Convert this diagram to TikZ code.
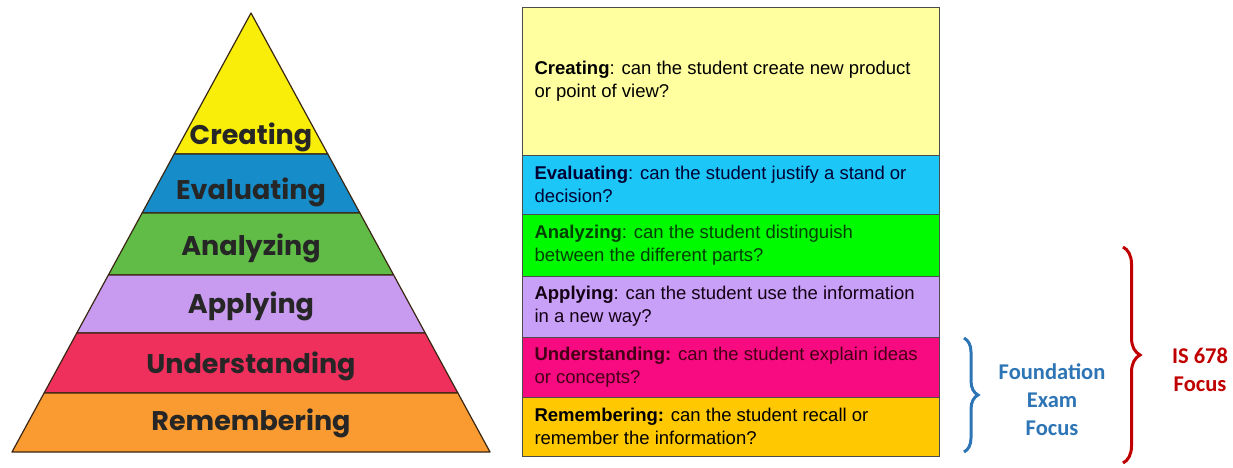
\documentclass[tikz,border=0pt]{standalone}
\usepackage{fontspec}
\setmainfont{Liberation Sans}
\newfontfamily\pyrfont{Poppins}
\newfontfamily\calfont{Carlito}
\usetikzlibrary{decorations.pathreplacing}

\definecolor{pyrCreating}{RGB}{248,238,10}
\definecolor{pyrEvaluating}{RGB}{22,140,200}
\definecolor{pyrAnalyzing}{RGB}{96,188,70}
\definecolor{pyrApplying}{RGB}{200,155,240}
\definecolor{pyrUnderstanding}{RGB}{240,48,92}
\definecolor{pyrRemembering}{RGB}{250,155,50}
\definecolor{tabCreating}{RGB}{255,255,160}
\definecolor{tabEvaluating}{RGB}{28,198,246}
\definecolor{tabAnalyzing}{RGB}{0,250,0}
\definecolor{tabApplying}{RGB}{200,160,248}
\definecolor{tabUnderstanding}{RGB}{248,10,128}
\definecolor{tabRemembering}{RGB}{255,200,0}
\definecolor{examblue}{RGB}{46,117,182}
\definecolor{focusred}{RGB}{192,0,0}

\begin{document}
\begin{tikzpicture}[x=1pt,y=-1pt,
  band/.style={draw=black!70!brown, line width=1.2pt, line join=round},
  pyrlabel/.style={font=\pyrfont\bfseries\fontsize{27}{27}\selectfont, text=black!85},
  row/.style={draw=black!70, line width=1pt},
  rowtext/.style={anchor=west, align=left, font=\fontsize{18.5}{23}\selectfont},
  curly/.style={decorate, decoration={brace, amplitude=#1}, line width=3pt},
  focustext/.style={align=center, font=\calfont\bfseries\fontsize{22.5}{28}\selectfont}]
\useasboundingbox (0,0) rectangle (1233,468);

%pyramid
\foreach \ytop/\ybot/\lab/\ytxt in {13/154/Creating/137, 154/213/Evaluating/192, 213/275/Analyzing/248, 275/333/Applying/306, 333/393/Understanding/366, 393/452/Remembering/423}
{
  \pgfmathsetmacro{\wa}{(\ytop-13)/439*239}
  \pgfmathsetmacro{\wb}{(\ybot-13)/439*239}
  \filldraw[band, fill=pyr\lab] (251-\wa,\ytop) -- (251+\wa,\ytop) -- (251+\wb,\ybot) -- (251-\wb,\ybot) -- cycle;
  \node[pyrlabel] (p\lab) at (251,\ytxt) {\lab};
}

%table
\foreach \ytop/\ybot/\lab/\tcol/\txt in {
  8/155/Creating/black/{\textbf{Creating}: can the student create new product\\or point of view?},
  155/214/Evaluating/black!80!blue/{\textbf{Evaluating}: can the student justify a stand or\\decision?},
  214/276/Analyzing/black!75!green/{\textbf{Analyzing}: can the student distinguish\\between the different parts?},
  276/337/Applying/black!85!violet/{\textbf{Applying}: can the student use the information\\in a new way?},
  337/397/Understanding/black!65!purple/{\textbf{Understanding:} can the student explain ideas\\or concepts?},
  397/456/Remembering/black/{\textbf{Remembering:} can the student recall or\\remember the information?}}
{
  \filldraw[row, fill=tab\lab] (522,\ytop) rectangle (939,\ybot);
  \node[rowtext, text=\tcol] (t\lab) at (531,{(\ytop+\ybot)/2}) {\txt};
}

%braces
\coordinate (fTop) at (964,338);
\coordinate (fBot) at (964,452);
\draw[curly=14pt, examblue] (fTop) -- (fBot);
\node[focustext, text=examblue] (fLabel) at (1052,400) {Foundation\\Exam\\Focus};

\coordinate (iTop) at (1123,247);
\coordinate (iBot) at (1123,463);
\draw[curly=17pt, focusred] (iTop) -- (iBot);
\node[focustext, text=focusred] (iLabel) at (1200,370) {IS 678\\Focus};

\end{tikzpicture}
\end{document}
